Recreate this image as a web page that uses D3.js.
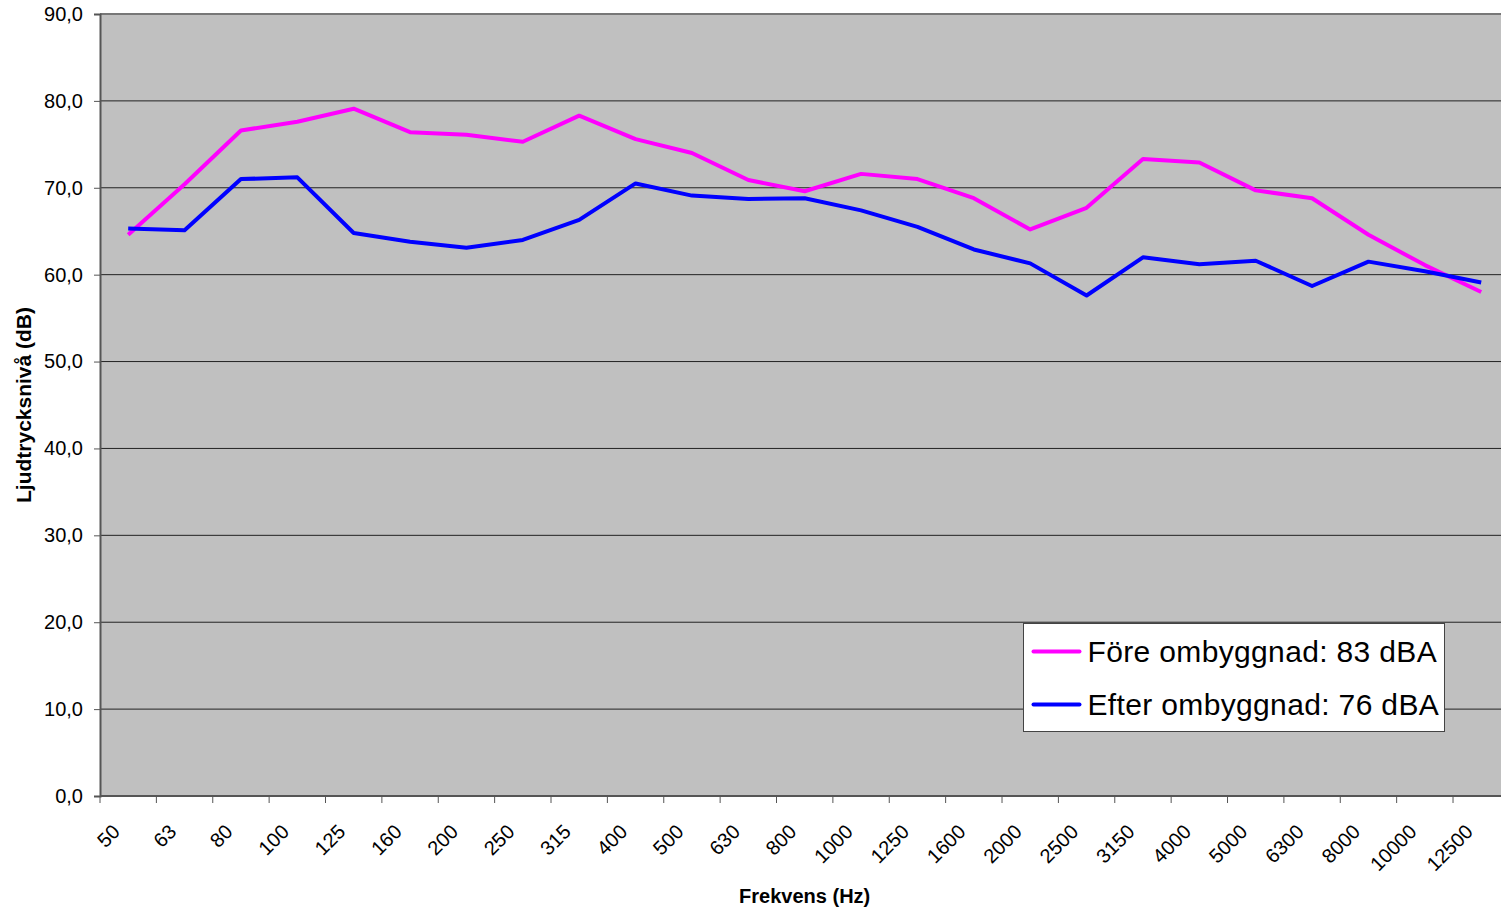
<!DOCTYPE html>
<html>
<head>
<meta charset="utf-8">
<script src="https://cdn.jsdelivr.net/npm/d3@7"></script>
<style>
  body { margin: 0; background: #fff; }
  text { font-family: "Liberation Sans", Arial, sans-serif; }
</style>
</head>
<body>
<div id="chart"></div>
<script>
// Frequency bands (Hz)
var frekvenser = ["50", "63", "80", "100", "125", "160", "200", "250", "315", "400", "500", "630", "800",
    "1000", "1250", "1600", "2000", "2500", "3150", "4000", "5000", "6300", "8000", "10000", "12500"];

// Sound pressure level before rebuild (dB)
var foreValues = [64.6, 70.4, 76.6, 77.6, 79.1, 76.4, 76.1, 75.3, 78.3, 75.6, 74.0, 70.9, 69.6,
    71.6, 71.0, 68.8, 65.2, 67.7, 73.3, 72.9, 69.7, 68.8, 64.6, 61.1, 58.0];

// Sound pressure level after rebuild (dB)
var efterValues = [65.3, 65.1, 71.0, 71.2, 64.8, 63.8, 63.1, 64.0, 66.3, 70.5, 69.1, 68.7, 68.8,
    67.4, 65.5, 62.9, 61.3, 57.6, 62.0, 61.2, 61.6, 58.7, 61.5, 60.4, 59.1];

var seriesNames = ["Före ombyggnad: 83 dBA", "Efter ombyggnad: 76 dBA"];
var yTicks = [0, 10, 20, 30, 40, 50, 60, 70, 80, 90];

function createChart() {
    var width = 1501, height = 909;
    var margin = { top: 14, left: 100, bottom: 113 };
    var plotRight = 1509.4; // the plot area runs a little past the picture edge

    var svg = d3.select("#chart")
        .append("svg")
        .attr("width", width)
        .attr("height", height);

    var x = d3.scaleBand()
        .domain(frekvenser)
        .range([margin.left, plotRight])
        .padding(0);

    var y = d3.scaleLinear()
        .domain([0, 90])
        .range([height - margin.bottom, margin.top]);

    // plot background
    svg.append("rect")
        .attr("x", margin.left)
        .attr("y", y(90))
        .attr("width", plotRight - margin.left)
        .attr("height", y(0) - y(90))
        .attr("fill", "#c0c0c0");

    // gridlines
    svg.append("g")
        .selectAll("line")
        .data(yTicks.slice(1))
        .enter()
        .append("line")
        .attr("x1", margin.left)
        .attr("x2", plotRight)
        .attr("y1", function (d) { return y(d); })
        .attr("y2", function (d) { return y(d); })
        .attr("stroke", function (d) { return d === 90 ? "#777" : "#222"; })
        .attr("stroke-width", function (d) { return d === 90 ? 2 : 1; });

    // y axis
    var yAxis = svg.append("g")
        .attr("transform", "translate(" + margin.left + ",0)")
        .call(d3.axisLeft(y)
            .tickValues(yTicks)
            .tickSize(6)
            .tickPadding(11)
            .tickFormat(function (d) { return d3.format(".1f")(d).replace(".", ","); }));
    yAxis.select(".domain").attr("stroke", "#555").attr("stroke-width", 2);
    yAxis.selectAll(".tick line").attr("stroke", "#555");
    yAxis.selectAll(".tick text")
        .attr("font-size", 20)
        .attr("fill", "#000")
        .style("font-family", "'Liberation Sans', Arial, sans-serif");

    // x axis line
    svg.append("line")
        .attr("x1", margin.left)
        .attr("x2", plotRight)
        .attr("y1", y(0))
        .attr("y2", y(0))
        .attr("stroke", "#555")
        .attr("stroke-width", 2);

    // x ticks at category boundaries
    svg.append("g")
        .selectAll("line")
        .data(frekvenser)
        .enter()
        .append("line")
        .attr("x1", function (d) { return x(d); })
        .attr("x2", function (d) { return x(d); })
        .attr("y1", y(0))
        .attr("y2", y(0) + 7)
        .attr("stroke", "#555");

    // x labels, rotated
    svg.append("g")
        .selectAll("text")
        .data(frekvenser)
        .enter()
        .append("text")
        .attr("transform", function (d) {
            return "translate(" + (x(d) + x.bandwidth() / 2 - 7) + "," + (y(0) + 37) + ") rotate(-45)";
        })
        .attr("text-anchor", "end")
        .attr("font-size", 20)
        .text(function (d) { return d; });

    // lines
    var line = d3.line()
        .x(function (d, i) { return x(frekvenser[i]) + x.bandwidth() / 2; })
        .y(function (d) { return y(d); });

    var colors = ["#ff00ff", "#0000ff"];
    [foreValues, efterValues].forEach(function (vals, k) {
        svg.append("path")
            .datum(vals)
            .attr("fill", "none")
            .attr("stroke", colors[k])
            .attr("stroke-width", 4)
            .attr("stroke-linejoin", "round")
            .attr("d", line);
    });

    // axis titles
    svg.append("text")
        .attr("x", (margin.left + plotRight) / 2)
        .attr("y", 903)
        .attr("text-anchor", "middle")
        .attr("font-size", 20)
        .attr("font-weight", "bold")
        .text("Frekvens (Hz)");

    svg.append("text")
        .attr("transform", "translate(31," + (y(0) + y(90)) / 2 + ") rotate(-90)")
        .attr("text-anchor", "middle")
        .attr("font-size", 21)
        .attr("font-weight", "bold")
        .text("Ljudtrycksnivå (dB)");

    // legend
    var legend = svg.append("g")
        .attr("transform", "translate(1023.5,623.5)");

    legend.append("rect")
        .attr("width", 421)
        .attr("height", 108)
        .attr("fill", "#fff")
        .attr("stroke", "#444")
        .attr("stroke-width", 1);

    seriesNames.forEach(function (name, k) {
        legend.append("line")
            .attr("x1", 10)
            .attr("x2", 56)
            .attr("y1", 28 + k * 53)
            .attr("y2", 28 + k * 53)
            .attr("stroke", colors[k])
            .attr("stroke-width", 4)
            .attr("stroke-linecap", "round");
        legend.append("text")
            .attr("x", 64)
            .attr("y", 38.5 + k * 53)
            .attr("font-size", 30)
            .attr("letter-spacing", 0.35)
            .text(name);
    });
}

createChart();
</script>
</body>
</html>
